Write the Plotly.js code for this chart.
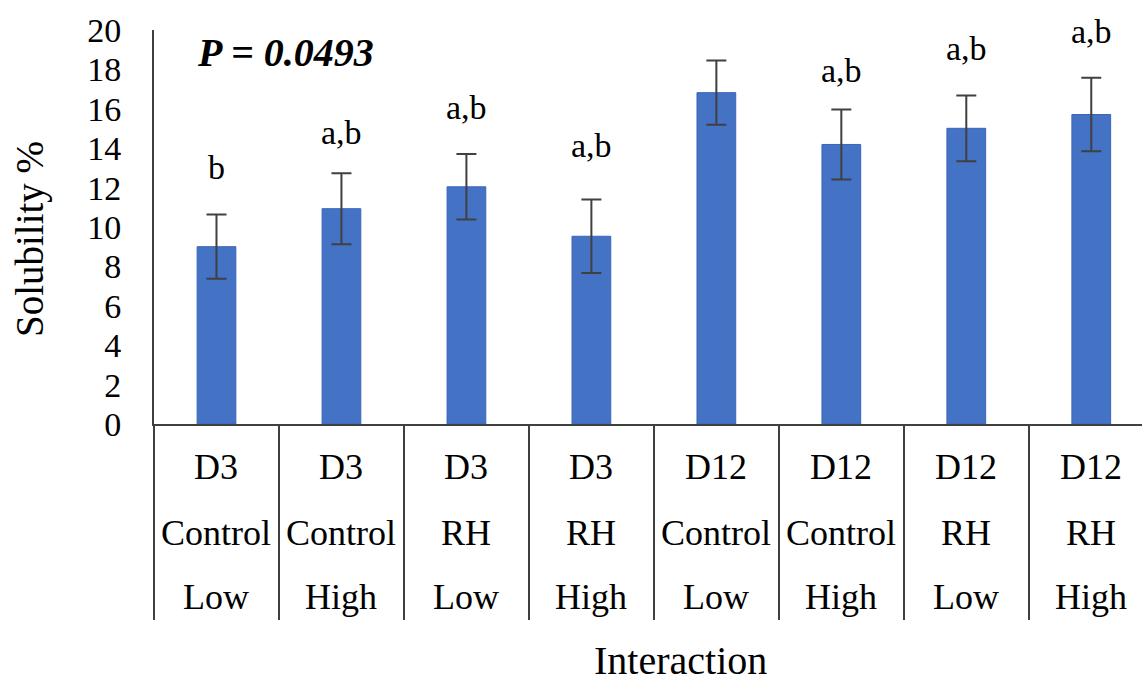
<!DOCTYPE html>
<html>
<head>
<meta charset="utf-8">
<script src="https://cdn.plot.ly/plotly-3.0.1.min.js"></script>
<style>html,body{margin:0;padding:0;background:#fff;}#chart{width:1142px;height:688px;}</style>
</head>
<body>
<div id="chart"></div>
<script>
// ---- data ----
var day       = ['D3','D3','D3','D3','D12','D12','D12','D12'];
var treatment = ['Control','Control','RH','RH','Control','Control','RH','RH'];
var level     = ['Low','High','Low','High','Low','High','Low','High'];
var solubility = [9.0, 10.93, 12.04, 9.53, 16.82, 14.19, 15.01, 15.71];
var errorSE    = [1.63, 1.8, 1.66, 1.87, 1.63, 1.78, 1.67, 1.87];
var letters    = ['b','a,b','a,b','a,b','a','a,b','a,b','a,b'];
var letterY    = [13.04, 14.8, 16.08, 14.15, 20.48, 17.95, 19.06, 19.92];
var yTicks     = [0,2,4,6,8,10,12,14,16,18,20];
var pText      = 'P = 0.0493';

var categories = day.map(function(d,i){ return d+' '+treatment[i]+' '+level[i]; });
var FONT = '"Liberation Serif", "Times New Roman", Times, serif';

var trace = {
  type: 'bar',
  x: categories,
  y: solubility,
  width: 0.31,
  marker: {color: '#4472C4', line: {color: '#3a66b8', width: 1}},
  error_y: {type: 'data', array: errorSE, visible: true, color: '#404040', thickness: 2, width: 10},
  hoverinfo: 'x+y'
};

var annotations = [];
var rows = [day, treatment, level];
var rowY = [-0.108, -0.277, -0.438];
rows.forEach(function(row, r){
  row.forEach(function(t, i){
    annotations.push({x: categories[i], y: rowY[r], xref: 'x', yref: 'paper', text: t,
      showarrow: false, xanchor: 'center', yanchor: 'middle', font: {family: FONT, size: 36, color: '#000'}});
  });
});
letters.forEach(function(t, i){
  annotations.push({x: categories[i], y: letterY[i], xref: 'x', yref: 'y', text: t,
    showarrow: false, xanchor: 'center', yanchor: 'middle', font: {family: FONT, size: 34, color: '#000'}});
});
annotations.push({x: 0.0415, y: 0.944, xref: 'paper', yref: 'paper', text: '<b><i>' + pText + '</i></b>',
  showarrow: false, xanchor: 'left', yanchor: 'middle', font: {family: FONT, size: 40, color: '#000'}});
annotations.push({x: -0.1255, y: 0.4695, xref: 'paper', yref: 'paper', text: 'Solubility %', textangle: -90,
  showarrow: false, xanchor: 'center', yanchor: 'middle', font: {family: FONT, size: 39, color: '#000'}});
annotations.push({x: 0.5334, y: -0.6015, xref: 'paper', yref: 'paper', text: 'Interaction',
  showarrow: false, xanchor: 'center', yanchor: 'middle', font: {family: FONT, size: 40, color: '#000'}});

var layout = {
  width: 1142, height: 688,
  margin: {l: 154, r: 0, t: 30, b: 264, pad: 0},
  paper_bgcolor: '#fff', plot_bgcolor: '#fff',
  showlegend: false,
  font: {family: FONT, color: '#000'},
  xaxis: {
    type: 'category', range: [-0.5, 7.406], fixedrange: true,
    showline: true, linecolor: '#404040', linewidth: 2,
    tickson: 'boundaries', ticks: 'outside', ticklen: 194, tickwidth: 2, tickcolor: '#404040',
    showticklabels: false, showgrid: false, zeroline: false
  },
  yaxis: {
    range: [0, 20], tickvals: yTicks, fixedrange: true,
    showline: true, linecolor: '#404040', linewidth: 2,
    showgrid: false, zeroline: false, ticks: '',
    ticklabelstandoff: 24,
    tickfont: {family: FONT, size: 34, color: '#000'}
  },
  annotations: annotations
};

Plotly.newPlot('chart', [trace], layout, {displayModeBar: false, staticPlot: true});
</script>
</body>
</html>
